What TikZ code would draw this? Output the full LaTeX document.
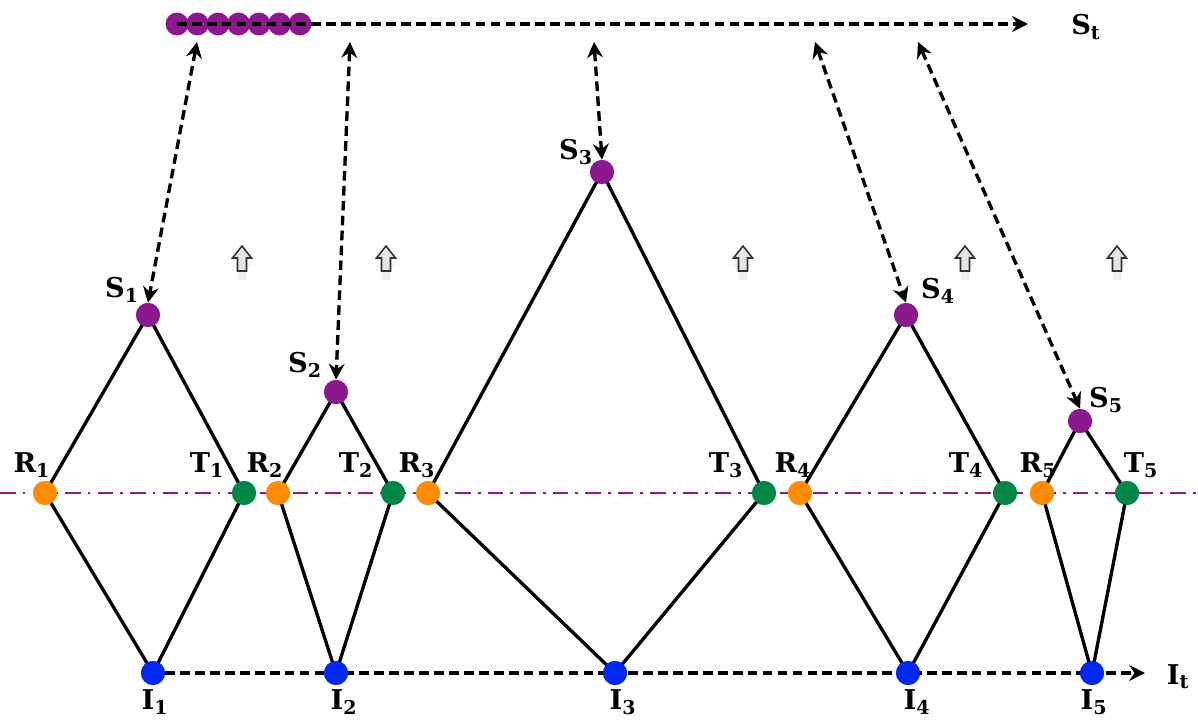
\documentclass[tikz,border=0pt]{standalone}
\usepackage{fontspec}
\setmainfont{DejaVu Serif}
\usetikzlibrary{arrows.meta,shadows}
\definecolor{spur}{RGB}{140,25,140}
\definecolor{rorg}{RGB}{255,140,0}
\definecolor{tgrn}{RGB}{0,135,70}
\definecolor{iblu}{RGB}{0,40,240}
\tikzset{
  dot/.style={circle,inner sep=0pt,minimum size=24*0.02cm},
  sdot/.style={dot,fill=spur},
  rdot/.style={dot,fill=rorg},
  tdot/.style={dot,fill=tgrn},
  idot/.style={dot,fill=iblu},
  lbl/.style={font=\fontsize{15.5}{18}\selectfont\bfseries,inner sep=0pt},
  edge/.style={line width=1.9pt},
  dsh/.style={line width=1.9pt,dash pattern=on 5.5pt off 3pt},
  tip/.style={-{Stealth[length=9pt,width=9pt,inset=3pt]}},
  dtip/.style={{Stealth[length=9pt,width=9pt,inset=3pt]}-{Stealth[length=9pt,width=9pt,inset=3pt]}},
  uparr/.style={draw=black!80,fill=black!10,line width=0.9pt,drop shadow={opacity=0.12,shadow xshift=0pt,shadow yshift=-5pt}},
}
\begin{document}
\begin{tikzpicture}[x=0.02cm,y=-0.02cm]
\useasboundingbox (0,0) rectangle (1198,720);
% mid line
\draw[spur,line width=1.7pt,dash pattern=on 9pt off 4pt on 1.5pt off 4pt] (0,493) -- (1198,493);
% nodes
\node[sdot] (S1) at (148,315) {};
\node[sdot] (S2) at (336,392) {};
\node[sdot] (S3) at (602,172) {};
\node[sdot] (S4) at (906,315) {};
\node[sdot] (S5) at (1080,421) {};
\node[rdot] (R1) at (45,493) {};
\node[tdot] (T1) at (244,493) {};
\node[rdot] (R2) at (278,493) {};
\node[tdot] (T2) at (393,493) {};
\node[rdot] (R3) at (428,493) {};
\node[tdot] (T3) at (764,493) {};
\node[rdot] (R4) at (800,493) {};
\node[tdot] (T4) at (1005,493) {};
\node[rdot] (R5) at (1042,493) {};
\node[tdot] (T5) at (1127,493) {};
\node[idot] (I1) at (153,673) {};
\node[idot] (I2) at (336,673) {};
\node[idot] (I3) at (615,673) {};
\node[idot] (I4) at (908,673) {};
\node[idot] (I5) at (1092,673) {};
\coordinate (Iend) at (1145,673);
% edges
\foreach \n in {1,...,5}{
  \draw[edge] (R\n.center) -- (S\n.center) -- (T\n.center) -- (I\n.center) -- cycle;
}
\foreach \n in {1,...,5}{
  \node[sdot] at (S\n) {};
  \node[rdot] at (R\n) {};
  \node[tdot] at (T\n) {};
}
% bottom axis
\draw[dsh,tip] (I1.east) -- (Iend);
\foreach \n in {1,...,5}{ \node[idot] at (I\n) {}; }
\node[lbl] (It) at (1178,677) {I\textsubscript{t}};
% top axis
\foreach \k [count=\i] in {0,...,6}{
  \node[sdot,minimum size=23*0.02cm] (P\i) at (177+20.5*\k,24) {};
}
\coordinate (Send) at (1028,24);
\draw[dsh,tip] (P1.center) -- (Send);
\node[lbl] (St) at (1086,27) {S\textsubscript{t}};
% vertical double arrows
\coordinate (a1) at (197,42);
\coordinate (a2) at (350,42);
\coordinate (a3) at (594,42);
\coordinate (a4) at (815,42);
\coordinate (a5) at (918,42);
\draw[dsh,dtip] (a1) -- (S1.north);
\draw[dsh,dtip] (a2) -- (S2.north);
\draw[dsh,dtip] (a3) -- (S3.north);
\draw[dsh,dtip] (a4) -- (S4.north);
\draw[dsh,dtip] (a5) -- (S5.north);
% labels
\node[lbl] (lS1) at (122,290) {S\textsubscript{1}};
\node[lbl] (lS2) at (305,365) {S\textsubscript{2}};
\node[lbl] (lS3) at (576,152) {S\textsubscript{3}};
\node[lbl] (lS4) at (938,291) {S\textsubscript{4}};
\node[lbl] (lS5) at (1106,400) {S\textsubscript{5}};
\node[lbl] (lR1) at (32,465) {R\textsubscript{1}};
\node[lbl] (lT1) at (207,465) {T\textsubscript{1}};
\node[lbl] (lR2) at (265,465) {R\textsubscript{2}};
\node[lbl] (lT2) at (356,465) {T\textsubscript{2}};
\node[lbl] (lR3) at (417,465) {R\textsubscript{3}};
\node[lbl] (lT3) at (726,465) {T\textsubscript{3}};
\node[lbl] (lR4) at (793,465) {R\textsubscript{4}};
\node[lbl] (lT4) at (966,465) {T\textsubscript{4}};
\node[lbl] (lR5) at (1038,465) {R\textsubscript{5}};
\node[lbl] (lT5) at (1141,465) {T\textsubscript{5}};
\node[lbl] (lI1) at (155,702) {I\textsubscript{1}};
\node[lbl] (lI2) at (344,702) {I\textsubscript{2}};
\node[lbl] (lI3) at (623,702) {I\textsubscript{3}};
\node[lbl] (lI4) at (917,702) {I\textsubscript{4}};
\node[lbl] (lI5) at (1094,702) {I\textsubscript{5}};
% hollow up arrows
\foreach \x in {242,386,743,965,1117}{
  \draw[uparr] (\x-4.5,271) -- (\x+4.5,271) -- (\x+4.5,258) -- (\x+9.5,258) -- (\x,246) -- (\x-9.5,258) -- (\x-4.5,258) -- cycle;
}
\end{tikzpicture}
\end{document}
